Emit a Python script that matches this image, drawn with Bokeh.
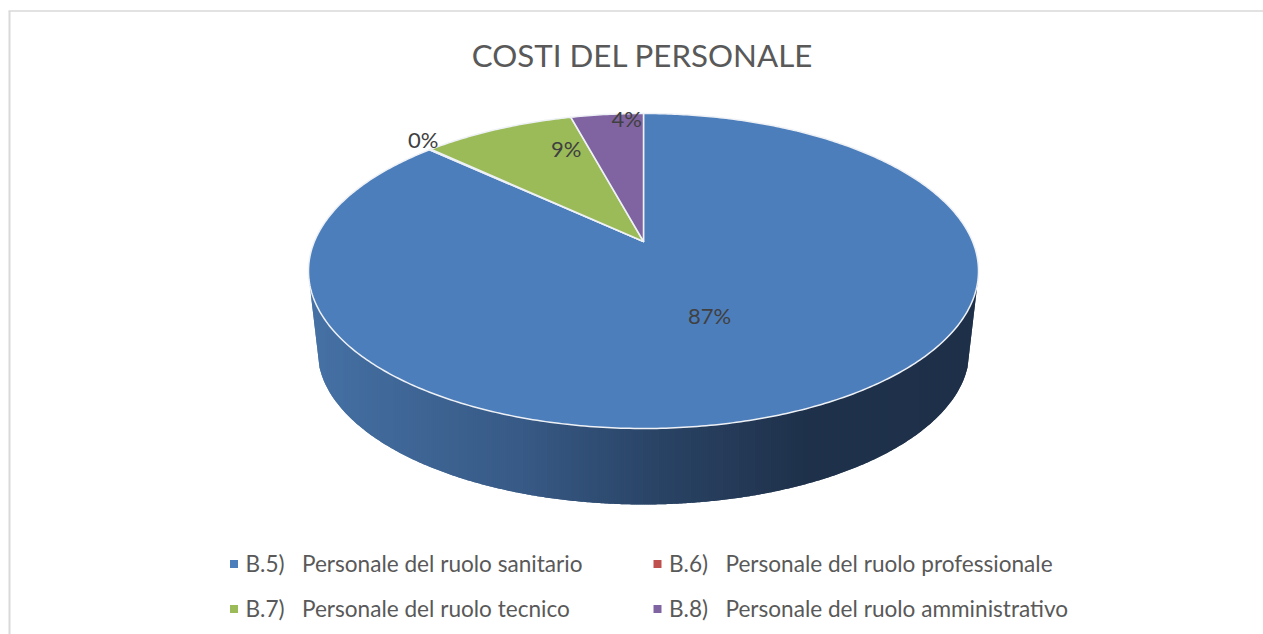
import numpy as np
from bokeh.embed import file_html
from bokeh.models import Range1d
from bokeh.plotting import figure
from bokeh.resources import INLINE
from bokeh.core.properties import value

# ---- data -----
title_text = "COSTI DEL PERSONALE"
NB = "\u00a0" * 3
categories = ["B.5)" + NB + "Personale del ruolo sanitario",
              "B.6)" + NB + "Personale del ruolo professionale",
              "B.7)" + NB + "Personale del ruolo tecnico",
              "B.8)" + NB + "Personale del ruolo amministrativo"]
shares = [86.9, 0.1, 8.8, 4.2]
colors = ["#4d7ebc", "#c0504d", "#9bbb59", "#8064a2"]

# ---- geometry of the tilted disc, in page pixels -----
W, H = 1263, 634
AP_X, AP_Y = 643.0, 241.0       # pie centre as seen in perspective
BACK, FRONT = 128.0, 187.0      # apex to back / front rim
K = (FRONT - BACK) / (FRONT + BACK)
B = BACK * (1 + K)
TOP_RX = 335.0
A = TOP_RX * np.sqrt(1 - K * K)
TOP_CY = 270.5
TOP_RY = 157.5
LOW_CY, LOW_RX, LOW_RY = 350.0, 326.0, 154.0


def project(theta, r=1.0):
    u = r * np.sin(theta)
    v = r * np.cos(theta)
    d = 1 + K * v
    return AP_X + A * u / d, AP_Y - B * v / d


p = figure(width=W, height=H, x_range=Range1d(0, W), y_range=Range1d(H, 0),
           toolbar_location=None, output_backend="svg", min_border=0,
           outline_line_color=None, background_fill_color="white",
           border_fill_color="white")
p.axis.visible = False
p.grid.visible = False

# chart frame: left and top edges only reach the photograph
p.line([9, 9], [10.5, H], line_color="#d9d9d9", line_width=2)
p.line([8, W], [10.5, 10.5], line_color="#d9d9d9", line_width=1.5)

# side wall, shaded by narrow vertical strips; each overlaps the next
edges = np.arange(-334.0, 334.01, 2.0)
stops_x = [-334, -250, -120, 0, 80, 160, 334]
stops_r = [70, 64, 56, 43, 38, 31, 30]
stops_g = [114, 104, 90, 70, 60, 50, 48]
stops_b = [166, 152, 134, 105, 90, 76, 73]


def wall_top(dx):
    return TOP_CY + TOP_RY * np.sqrt(np.maximum(0, 1 - (dx / TOP_RX) ** 2))


def wall_bottom(dx):
    inner = LOW_CY + LOW_RY * np.sqrt(np.maximum(0, 1 - (dx / LOW_RX) ** 2))
    outer = LOW_CY - (np.abs(dx) - LOW_RX) / (334 - LOW_RX) * (LOW_CY - wall_top(334.0))
    return np.where(np.abs(dx) <= LOW_RX, inner, outer)


xs, ys, fills = [], [], []
for a, b in zip(edges[:-1], edges[1:]):
    m = (a + b) / 2
    c = min(b + 2.0, 334.0)       # overlap hides the seams
    xs.append([AP_X + a, AP_X + b, AP_X + c, AP_X + c, AP_X + b, AP_X + a])
    ys.append([float(wall_top(a)), float(wall_top(b)), float(wall_top(c)),
               float(wall_bottom(c)), float(wall_bottom(b)), float(wall_bottom(a))])
    fills.append("#%02x%02x%02x" % (int(np.interp(m, stops_x, stops_r)),
                                    int(np.interp(m, stops_x, stops_g)),
                                    int(np.interp(m, stops_x, stops_b))))
p.patches(xs, ys, fill_color=fills, line_color=None)

# top face wedges, clockwise from twelve o'clock
total = sum(shares)
cum = np.cumsum([0] + shares) / total * 2 * np.pi
wx, wy = [], []
for s, e in zip(cum[:-1], cum[1:]):
    t = np.linspace(s, e, max(3, int((e - s) * 90)))
    ex, ey = project(t)
    wx.append([AP_X] + ex.tolist())
    wy.append([AP_Y] + ey.tolist())
p.patches(wx, wy, fill_color=colors, line_color="#eef1f5", line_width=1.5, line_join="round")

# percentage labels, anchored on their slices
mids = (cum[:-1] + cum[1:]) / 2
label_r = [0.5, 1.0, 0.5, 0.5]
label_dx = [-6, -7, 1, 3]
label_dy = [-2, -10, -33, -54]
lx, ly = [], []
for m, r, dx, dy in zip(mids, label_r, label_dx, label_dy):
    px, py = project(m, r)
    lx.append(float(px) + dx)
    ly.append(float(py) + dy)
labels = ["%d%%" % round(s / total * 100) for s in shares]
p.text(lx, ly, text=labels, text_font=value("Lato"), text_font_size="22px",
       text_color="#404040", text_align="center", text_baseline="middle")

# title
p.text([642], [54], text=[title_text], text_font=value("Lato"), text_font_size="31.3px",
       text_color="#595959", text_align="center", text_baseline="middle")

# legend, two columns by two rows
col_x = [233.5, 657]
row_y = [563.5, 608.5]
leg_x = [col_x[i % 2] for i in range(4)]
leg_y = [row_y[i // 2] for i in range(4)]
p.scatter(leg_x, leg_y, marker="square", size=8, fill_color=colors, line_color=None)
p.text([x + 11.5 for x in leg_x], [y - 1 for y in leg_y], text=categories, text_font=value("Lato"),
       text_font_size="22.6px", text_color="#595959", text_align="left", text_baseline="middle")

open("out.html", "w").write(file_html(p, INLINE))
